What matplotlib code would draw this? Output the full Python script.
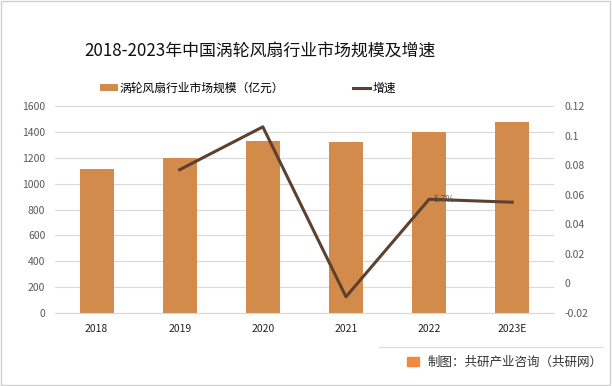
import numpy as np
import matplotlib.pyplot as plt
from matplotlib.patches import Rectangle

plt.rcParams['font.family'] = ['Noto Sans CJK SC', 'DejaVu Sans']

years = ["2018", "2019", "2020", "2021", "2022", "2023E"]
market_size = [1113, 1198, 1330, 1322, 1397, 1474]
growth = [None, 0.077, 0.106, -0.009, 0.057, 0.055]

bar_color = "#d38b4c"
line_color = "#5c4130"

fig = plt.figure(figsize=(6.12, 3.86), dpi=100)
fig.patches.append(Rectangle((0.002, 0.003), 0.995, 0.994, transform=fig.transFigure,
                             fill=False, edgecolor="#d0d0d0", lw=1))

ax = fig.add_axes([0.0899, 0.189, 0.815, 0.536])
x = np.arange(len(years))
ax.bar(x, market_size, width=0.41, color=bar_color, zorder=2,
       label="涡轮风扇行业市场规模（亿元）")
ax.set_xlim(-0.5, len(years) - 0.5)
ax.set_ylim(0, 1600)
ax.set_yticks(range(0, 1601, 200))
ax.set_xticks(x)
ax.set_xticklabels(years, fontsize=7.5, color="#222222")
ax.tick_params(axis="y", labelsize=7.5, labelcolor="#595959", length=0, pad=7)
ax.tick_params(axis="x", length=0, pad=8)
ax.grid(axis="y", color="#d9d9d9", lw=0.8, zorder=0)
for s in ax.spines.values():
    s.set_visible(False)
ax.spines["bottom"].set_visible(True)
ax.spines["bottom"].set_color("#d9d9d9")

ax2 = ax.twinx()
gx = [i for i, g in enumerate(growth) if g is not None]
gy = [g for g in growth if g is not None]
ax2.plot(gx, gy, color=line_color, lw=2.2, label="增速", zorder=3)
ax2.set_ylim(-0.02, 0.12)
ax2.set_yticks(np.round(np.arange(-0.02, 0.121, 0.02), 2))
ax2.set_yticklabels(["-0.02", "0", "0.02", "0.04", "0.06", "0.08", "0.1", "0.12"])
ax2.tick_params(axis="y", labelsize=7.5, labelcolor="#595959", length=0, pad=8)
for s in ax2.spines.values():
    s.set_visible(False)
ax2.text(4.05, growth[4], "5.7%", fontsize=6.5, color="#595959", va="center", ha="left")

fig.text(0.425, 0.865, "2018-2023年中国涡轮风扇行业市场规模及增速", ha="center", va="center",
         fontsize=12.2, color="#111111")

h1, l1 = ax.get_legend_handles_labels()
h2, l2 = ax2.get_legend_handles_labels()
fig.legend(h1 + h2, l1 + l2, loc="center", bbox_to_anchor=(0.405, 0.772), ncol=2,
           frameon=False, fontsize=8.5, handlelength=1.5, handleheight=0.6,
           columnspacing=5.8, handletextpad=0.15)

fig.add_artist(plt.Line2D([0.62, 0.985], [0.101, 0.101], color="#dddddd", lw=0.8,
                          transform=fig.transFigure))
fig.patches.append(Rectangle((0.665, 0.052), 0.02, 0.024, transform=fig.transFigure,
                             color="#f08a3c"))
fig.text(0.699, 0.062, "制图：共研产业咨询（共研网）", fontsize=9, color="#333333",
         va="center", ha="left")

fig.savefig("out.png", dpi=100)
